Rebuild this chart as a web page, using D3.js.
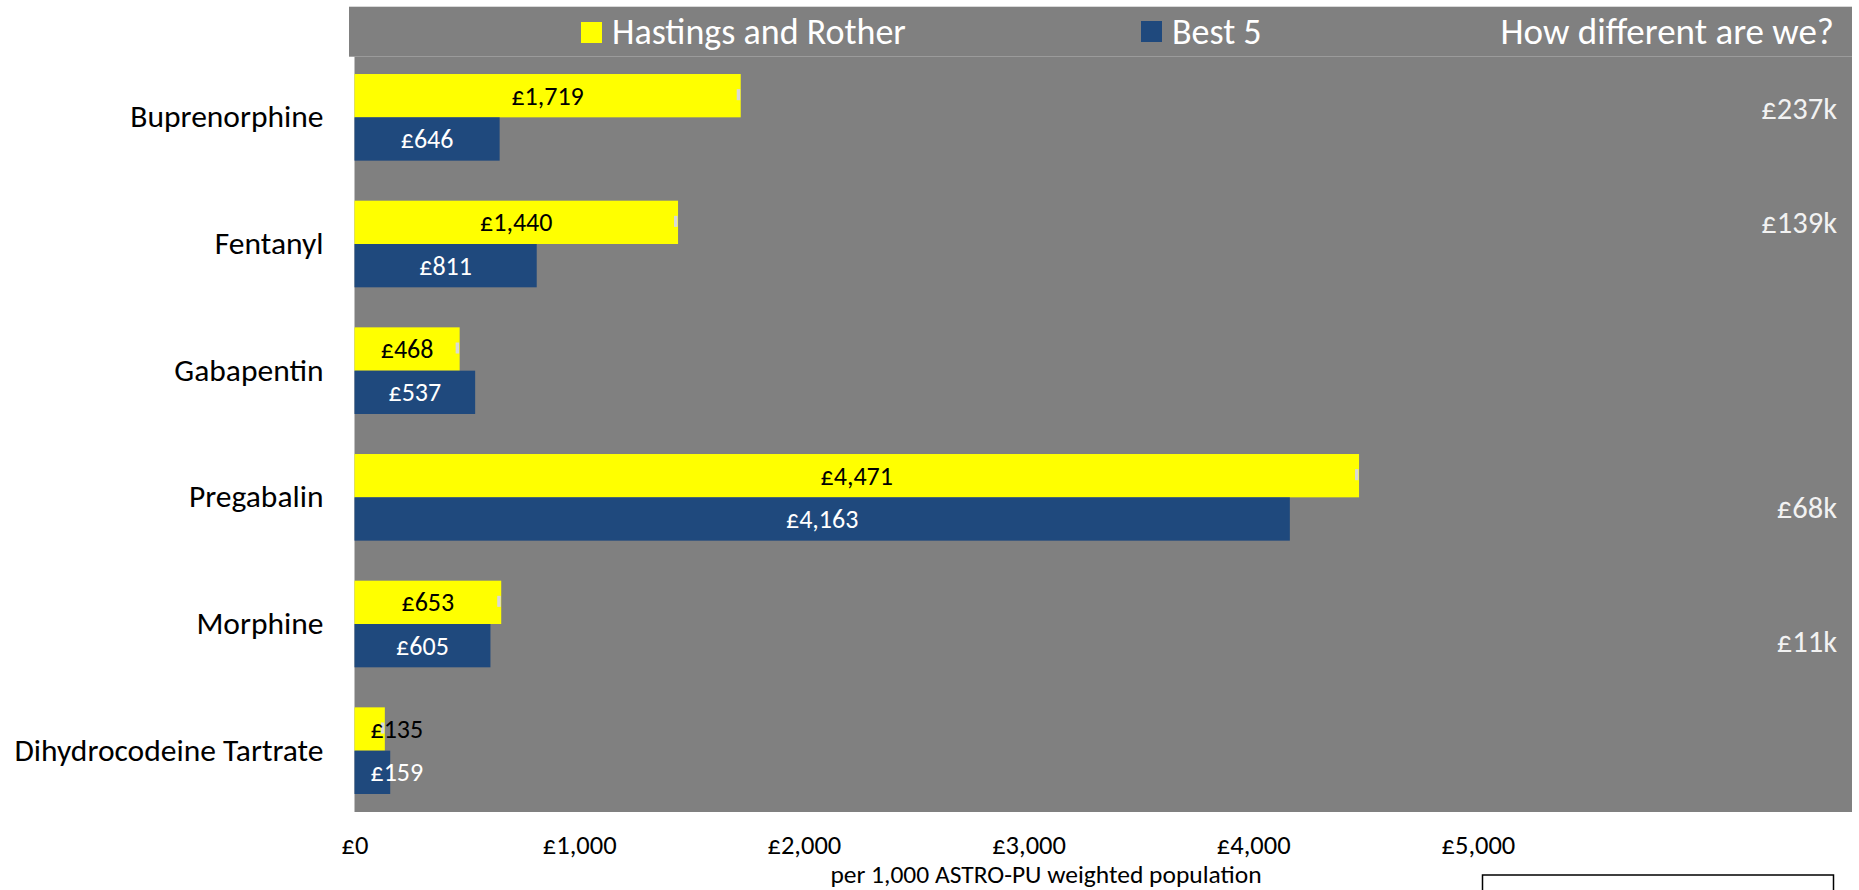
<!DOCTYPE html>
<html>
<head>
<meta charset="utf-8">
<script src="https://cdn.jsdelivr.net/npm/d3@7/dist/d3.min.js"></script>
<style>
  html, body { margin: 0; padding: 0; background: #ffffff; }
  svg { display: block; }
  text { font-family: Carlito, Lato, "Open Sans", sans-serif; }
</style>
</head>
<body>
<svg id="chart" width="1859" height="890"></svg>
<script>
// ---- data ----
const categories = ["Buprenorphine", "Fentanyl", "Gabapentin", "Pregabalin", "Morphine", "Dihydrocodeine Tartrate"];
const hastings = [1719, 1440, 468, 4471, 653, 135];
const best5 = [646, 811, 537, 4163, 605, 159];
const differences = ["£237k", "£139k", "", "£68k", "£11k", ""];
const xTicks = [0, 1000, 2000, 3000, 4000, 5000];
const seriesNames = ["Hastings and Rother", "Best 5"];
const diffTitle = "How different are we?";
const xTitle = "per 1,000 ASTRO-PU weighted population";

// ---- layout ----
const plot = { left: 354.5, right: 1852, top: 56.7, bottom: 812 };
const header = { left: 349, right: 1852, top: 6.7, bottom: 56.7 };
const colors = { bg: "#808080", yellow: "#ffff00", blue: "#1f497d", mark: "#d9d9d9" };
const diffShift = [2, -11.3, 0, 21, 27.7, 0];
const FONT = "Carlito, Lato, 'Open Sans', sans-serif";

const svg = d3.select("#chart");
const fmt = d3.format(",");

const x = d3.scaleLinear().domain([0, 6665]).range([plot.left, plot.right]);
const y = d3.scaleBand().domain(categories).range([54, 814]).paddingInner(0.316).paddingOuter(0.158);
const barH = y.bandwidth() / 2;

// header band
svg.append("rect").attr("x", header.left).attr("y", header.top)
  .attr("width", header.right - header.left).attr("height", header.bottom - header.top)
  .attr("fill", colors.bg);
// plot background
svg.append("rect").attr("x", plot.left).attr("y", plot.top)
  .attr("width", plot.right - plot.left).attr("height", plot.bottom - plot.top)
  .attr("fill", colors.bg);

// legend
const legend = [
  { name: seriesNames[0], color: colors.yellow, sx: 581, sy: 22 },
  { name: seriesNames[1], color: colors.blue, sx: 1141, sy: 21 }
];
legend.forEach(l => {
  svg.append("rect").attr("x", l.sx).attr("y", l.sy).attr("width", 21).attr("height", 21).attr("fill", l.color);
  svg.append("text").attr("x", l.sx + 31).attr("y", 43.5)
    .attr("fill", "#ffffff").attr("font-size", 36).text(l.name);
});
svg.append("text").attr("x", 1834).attr("y", 43.5).attr("text-anchor", "end")
  .attr("fill", "#ffffff").attr("font-size", 37).text(diffTitle);

// bars
const rows = categories.map((c, i) => ({ cat: c, h: hastings[i], b: best5[i], d: differences[i], i }));

const g = svg.append("g");
g.selectAll("rect.h").data(rows).join("rect").attr("class", "h")
  .attr("x", x(0)).attr("y", d => y(d.cat))
  .attr("width", d => x(d.h) - x(0)).attr("height", barH)
  .attr("fill", colors.yellow);
g.selectAll("rect.b").data(rows).join("rect").attr("class", "b")
  .attr("x", x(0)).attr("y", d => y(d.cat) + barH)
  .attr("width", d => x(d.b) - x(0)).attr("height", barH)
  .attr("fill", colors.blue);
g.selectAll("rect.m").data(rows).join("rect").attr("class", "m")
  .attr("x", d => x(d.h) - 4).attr("y", d => y(d.cat) + barH / 2 - 6.5)
  .attr("width", 3.5).attr("height", 11)
  .attr("fill", colors.mark);

// value labels
function valueLabel(sel, valueKey, yOff, fill) {
  sel.each(function (d) {
    const t = d3.select(this);
    const v = d[valueKey];
    t.attr("font-size", 26).attr("fill", fill).attr("dy", "0.34em")
      .attr("y", y(d.cat) + yOff + barH / 2)
      .attr("text-anchor", "middle")
      .text("£" + fmt(v));
    const w = this.getComputedTextLength();
    let cx = (x(0) + x(v)) / 2;
    if (cx - w / 2 < x(0) + 16) cx = x(0) + 16 + w / 2;
    t.attr("x", cx);
  });
}
g.selectAll("text.vh").data(rows).join("text").attr("class", "vh")
  .call(valueLabel, "h", 0, "#000000");
g.selectAll("text.vb").data(rows).join("text").attr("class", "vb")
  .call(valueLabel, "b", barH, "#ffffff");

// difference labels
g.selectAll("text.diff").data(rows.filter(d => d.d !== "")).join("text").attr("class", "diff")
  .attr("x", 1837).attr("text-anchor", "end")
  .attr("y", d => y(d.cat) + y.bandwidth() / 2 + diffShift[d.i])
  .attr("font-size", 30.5).attr("fill", "#f2f2f2")
  .text(d => d.d);

// category axis labels
const yAxis = svg.append("g").attr("transform", `translate(${plot.left},0)`)
  .call(d3.axisLeft(y).tickSize(0).tickPadding(31));
yAxis.select(".domain").remove();
yAxis.selectAll("text").attr("font-size", 31.5).attr("fill", "#000000")
  .attr("font-family", FONT)
  .attr("dy", "0.32em");

// x axis
const xAxis = svg.append("g").attr("transform", `translate(0,${plot.bottom})`)
  .call(d3.axisBottom(x).tickValues(xTicks).tickSize(0).tickFormat(d => "£" + fmt(d)));
xAxis.select(".domain").remove();
xAxis.selectAll("text").attr("font-size", 26.5).attr("fill", "#000000")
  .attr("font-family", FONT)
  .attr("y", 42).attr("dy", 0);

svg.append("text").attr("x", 1046).attr("y", 883).attr("text-anchor", "middle")
  .attr("font-size", 25.5).attr("fill", "#000000").text(xTitle);

// empty box bottom-right
svg.append("rect").attr("x", 1482.5).attr("y", 875).attr("width", 351).attr("height", 40)
  .attr("fill", "#ffffff").attr("stroke", "#000000").attr("stroke-width", 1.5);
</script>
</body>
</html>
